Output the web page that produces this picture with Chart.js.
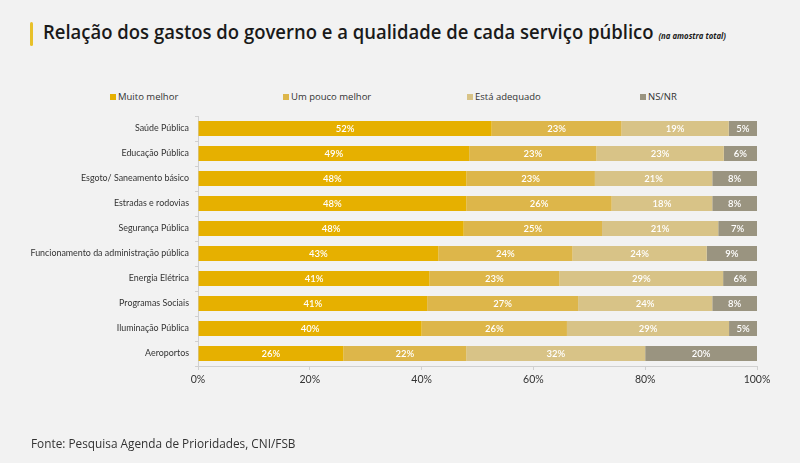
<!DOCTYPE html>
<html lang="pt-BR">
<head>
<meta charset="utf-8">
<script src="https://cdn.jsdelivr.net/npm/chart.js@4"></script>
<style>
  html, body { margin: 0; padding: 0; background: #f2f2f2; }
  body { width: 800px; height: 463px; position: relative; overflow: hidden; font-family: "Open Sans", sans-serif; }
  #chart { position: absolute; left: 0; top: 0; }
  .accent { position: absolute; left: 30px; top: 22px; width: 3px; height: 24px; background: #e8c12a; border-radius: 2px; }
  .title { position: absolute; left: 43px; top: 19px; font-size: 19px; font-weight: 600; color: #1a1a1a; white-space: nowrap; transform: scaleX(0.973); transform-origin: left center; }
  .title small { font-size: 8px; font-style: italic; font-weight: 700; margin-left: 5px; }
  .legend { position: absolute; top: 90px; left: 0; font-size: 9.5px; color: #333; }
  .legend span { position: absolute; white-space: nowrap; }
  .legend i { display: inline-block; width: 6px; height: 6px; margin-right: 2px; vertical-align: 0px; }
  .source { position: absolute; left: 31px; top: 434px; font-size: 13.5px; color: #333; white-space: nowrap; transform: scaleX(0.875); transform-origin: left center; }
</style>
</head>
<body>
<div class="accent"></div>
<div class="title">Relação dos gastos do governo e a qualidade de cada serviço público<small>(na amostra total)</small></div>
<div class="legend" id="legend"></div>
<canvas id="chart" width="800" height="463"></canvas>
<div class="source">Fonte: Pesquisa Agenda de Prioridades, CNI/FSB</div>
<script>
const categories = [
    'Saúde Pública',
    'Educação Pública',
    'Esgoto/ Saneamento básico',
    'Estradas e rodovias',
    'Segurança Pública',
    'Funcionamento da administração pública',
    'Energia Elétrica',
    'Programas Sociais',
    'Iluminação Pública',
    'Aeroportos'
];
const muitoMelhor   = [52, 49, 48, 48, 48, 43, 41, 41, 40, 26];
const umPoucoMelhor = [23, 23, 23, 26, 25, 24, 23, 27, 26, 22];
const estaAdequado  = [19, 23, 21, 18, 21, 24, 29, 24, 29, 32];
const nsNr          = [5, 6, 8, 8, 7, 9, 6, 8, 5, 20];
const xTicks = [0, 20, 40, 60, 80, 100];

const seriesNames = ['Muito melhor', 'Um pouco melhor', 'Está adequado', 'NS/NR'];
const seriesValues = [muitoMelhor, umPoucoMelhor, estaAdequado, nsNr];
const colors = ['#e6b000', '#ddb64a', '#d8c387', '#9a9480'];

// 100% stacked: each row is scaled to its own total
const totals = categories.map((c, i) => seriesValues.reduce((s, arr) => s + arr[i], 0));

const legendX = [110, 283, 467, 640];
const legend = document.getElementById('legend');
seriesNames.forEach((name, k) => {
    const s = document.createElement('span');
    s.style.left = legendX[k] + 'px';
    s.innerHTML = '<i style="background:' + colors[k] + '"></i>' + name;
    legend.appendChild(s);
});

const barLabels = {
    id: 'barLabels',
    afterDatasetsDraw(chart) {
        const ctx = chart.ctx;
        ctx.save();
        ctx.fillStyle = '#ffffff';
        ctx.font = '600 9.5px Lato, sans-serif';
        ctx.textAlign = 'center';
        ctx.textBaseline = 'middle';
        chart.data.datasets.forEach((ds, k) => {
            chart.getDatasetMeta(k).data.forEach((bar, i) => {
                const cx = (bar.x + bar.base) / 2;
                ctx.fillText(ds.raw[i] + '%', cx, bar.y + 0.5);
            });
        });
        ctx.restore();
    }
};

new Chart(document.getElementById('chart'), {
    type: 'bar',
    data: {
        labels: categories,
        datasets: seriesNames.map((name, k) => ({
            label: name,
            raw: seriesValues[k],
            data: seriesValues[k].map((v, i) => v / totals[i] * 100),
            backgroundColor: colors[k],
            borderWidth: 0,
            barPercentage: 1,
            categoryPercentage: 0.6
        }))
    },
    options: {
        indexAxis: 'y',
        responsive: false,
        animation: false,
        layout: { padding: { top: 116, right: 43, bottom: 73, left: 0 } },
        plugins: {
            legend: { display: false },
            tooltip: { enabled: false }
        },
        scales: {
            x: {
                stacked: true,
                min: 0,
                max: 100,
                afterBuildTicks(scale) {
                    scale.ticks = xTicks.map(v => ({ value: v }));
                },
                afterFit(scale) { scale.height = 24; },
                grid: { drawOnChartArea: false, tickLength: 4, color: '#d0d0d0' },
                border: { color: '#d0d0d0' },
                ticks: {
                    padding: 3,
                    color: '#333',
                    font: { family: 'Lato, sans-serif', size: 10.5 },
                    callback: v => v + '%'
                }
            },
            y: {
                stacked: true,
                afterFit(scale) { scale.width = 198; },
                grid: { drawOnChartArea: false, offset: true, tickLength: 3, color: '#d0d0d0' },
                border: { color: '#d0d0d0' },
                ticks: {
                    padding: 6,
                    color: '#333',
                    font: { family: 'Lato, sans-serif', size: 8.9 }
                }
            }
        }
    },
    plugins: [barLabels]
});
</script>
</body>
</html>
